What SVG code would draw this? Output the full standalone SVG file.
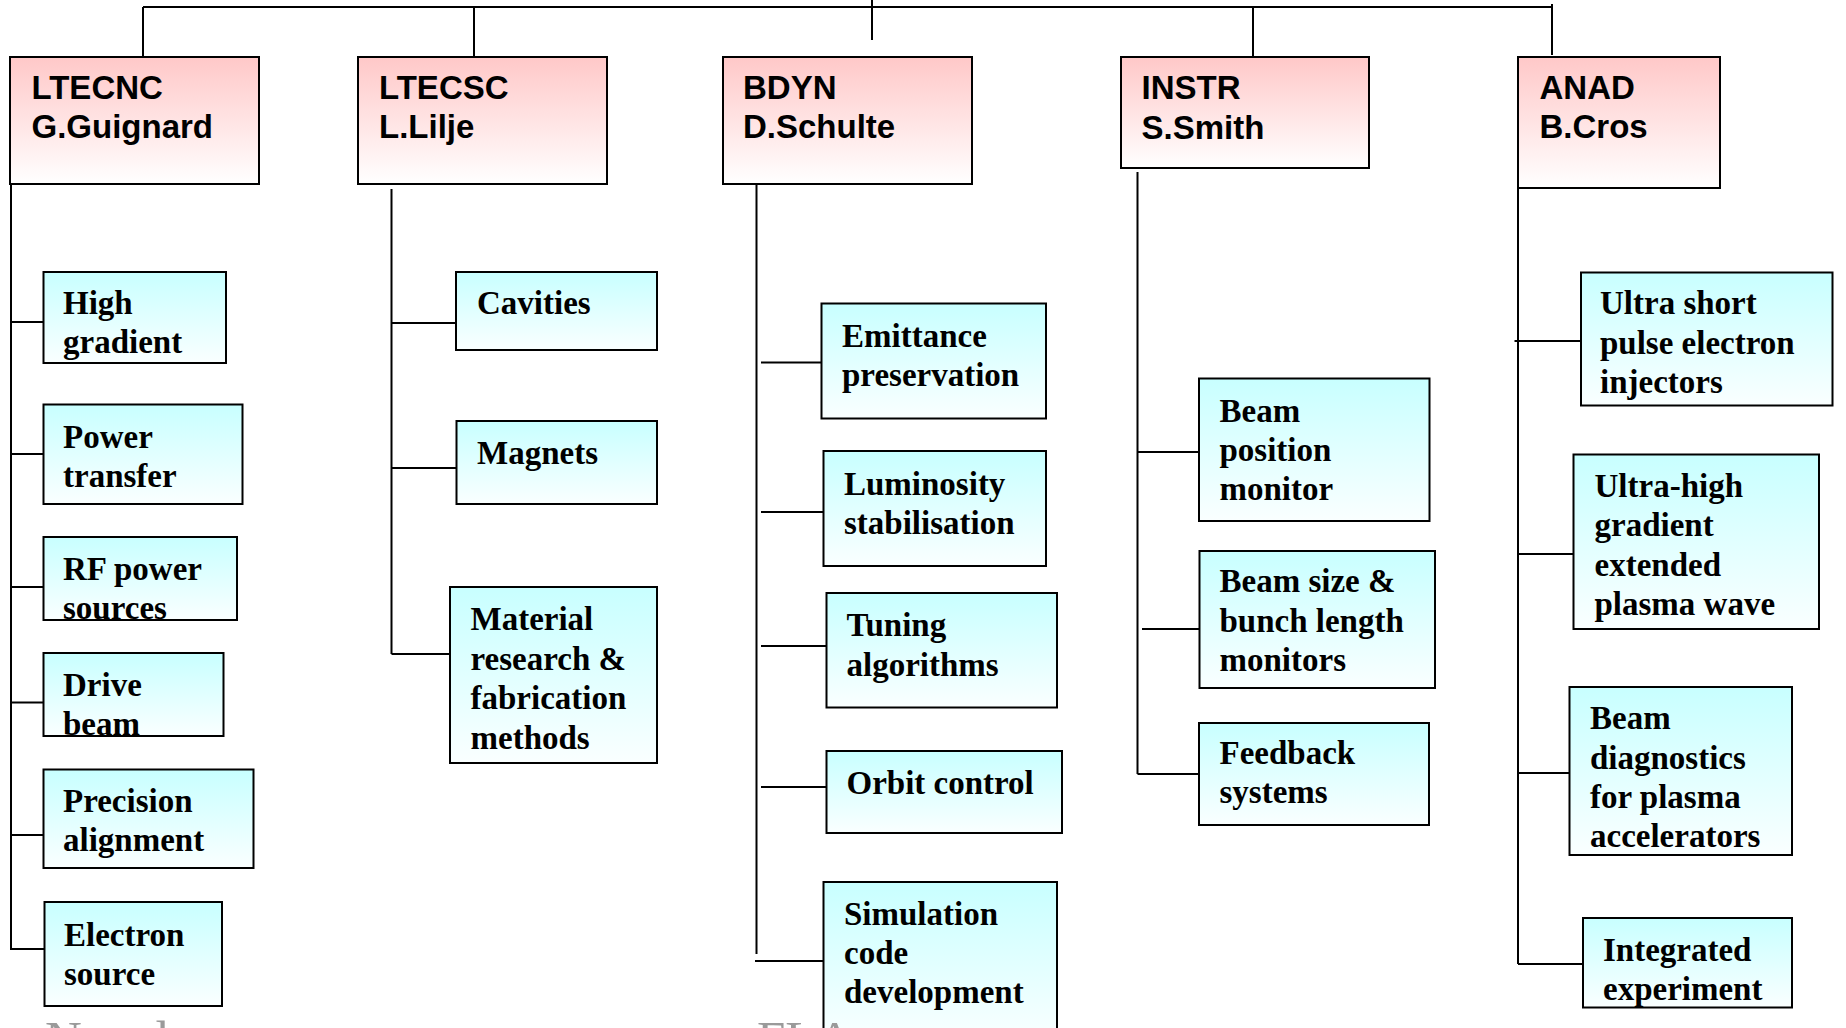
<svg xmlns="http://www.w3.org/2000/svg" width="1846" height="1028" viewBox="0 0 1846 1028">
  <defs>
    <linearGradient id="gHead" x1="0" y1="0" x2="0" y2="1">
      <stop offset="0" stop-color="#FFC8C8"/>
      <stop offset="1" stop-color="#FFFFFF"/>
    </linearGradient>
    <linearGradient id="gTask" x1="0" y1="0" x2="0" y2="1">
      <stop offset="0" stop-color="#C8FFFF"/>
      <stop offset="1" stop-color="#FAFFFF"/>
    </linearGradient>
  </defs>
  <style>
    .head rect { fill: url(#gHead); stroke: #000; stroke-width: 2; }
    .task rect { fill: url(#gTask); stroke: #000; stroke-width: 2; }
    .head text { font-family: "Liberation Sans", Arial, sans-serif; font-weight: bold; font-size: 33px; fill: #000; }
    .task text { font-family: "Liberation Serif", "Times New Roman", serif; font-weight: bold; font-size: 33px; fill: #000; }
    #connectors line { stroke: #000; stroke-width: 2; fill: none; }
    .footer { font-family: "Liberation Serif", "Times New Roman", serif; font-size: 51px; fill: #9a9a9a; }
  </style>

  <rect x="0" y="0" width="1846" height="1028" fill="#FFFFFF"/>

  <!-- tree connectors -->
  <g id="connectors">
    <!-- top bus and drops to group heads -->
    <line x1="143" y1="7" x2="1552" y2="7"/>
    <line x1="872" y1="0" x2="872" y2="40"/>
    <line x1="143" y1="7" x2="143" y2="57"/>
    <line x1="474" y1="7" x2="474" y2="57"/>
    <line x1="1253" y1="7" x2="1253" y2="57"/>
    <line x1="1552" y1="4" x2="1552" y2="55"/>

    <!-- LTECNC branch -->
    <line x1="11" y1="155" x2="11" y2="949"/>
    <line x1="10" y1="322" x2="43.5" y2="322"/>
    <line x1="10" y1="454" x2="43.5" y2="454"/>
    <line x1="10" y1="587" x2="43.5" y2="587"/>
    <line x1="10" y1="702.5" x2="43.5" y2="702.5"/>
    <line x1="10" y1="835" x2="43.5" y2="835"/>
    <line x1="10" y1="949" x2="44.5" y2="949"/>

    <!-- LTECSC branch -->
    <line x1="391.5" y1="189" x2="391.5" y2="654"/>
    <line x1="391.5" y1="323" x2="456" y2="323"/>
    <line x1="391.5" y1="468" x2="456.5" y2="468"/>
    <line x1="391.5" y1="654" x2="450" y2="654"/>

    <!-- BDYN branch -->
    <line x1="756.5" y1="185" x2="756.5" y2="954"/>
    <line x1="761" y1="362.5" x2="821.5" y2="362.5"/>
    <line x1="761" y1="512" x2="823.5" y2="512"/>
    <line x1="761" y1="646" x2="826.5" y2="646"/>
    <line x1="761" y1="787" x2="826.5" y2="787"/>
    <line x1="755" y1="961" x2="823.5" y2="961"/>

    <!-- INSTR branch -->
    <line x1="1137.5" y1="172" x2="1137.5" y2="774"/>
    <line x1="1137.5" y1="452" x2="1199" y2="452"/>
    <line x1="1142" y1="629" x2="1199.5" y2="629"/>
    <line x1="1137.5" y1="774" x2="1199" y2="774"/>

    <!-- ANAD branch -->
    <line x1="1518" y1="188" x2="1518" y2="964"/>
    <line x1="1514.5" y1="341" x2="1581" y2="341"/>
    <line x1="1518" y1="554" x2="1573.5" y2="554"/>
    <line x1="1518" y1="773" x2="1569.5" y2="773"/>
    <line x1="1518" y1="964" x2="1583" y2="964"/>
  </g>

  <!-- group heads -->
  <g id="ltecnc" class="head">
    <rect x="10" y="57" width="249" height="127"/>
    <text x="31.5" y="99.3">LTECNC</text>
    <text x="31.5" y="138.3">G.Guignard</text>
  </g>
  <g id="ltecsc" class="head">
    <rect x="358" y="57" width="249" height="127"/>
    <text x="379" y="99.3">LTECSC</text>
    <text x="379" y="138.3">L.Lilje</text>
  </g>
  <g id="bdyn" class="head">
    <rect x="723" y="57" width="249" height="127"/>
    <text x="743" y="99.3">BDYN</text>
    <text x="743" y="138.3">D.Schulte</text>
  </g>
  <g id="instr" class="head">
    <rect x="1121" y="57" width="248" height="111"/>
    <text x="1141.5" y="99.3">INSTR</text>
    <text x="1141.5" y="139">S.Smith</text>
  </g>
  <g id="anad" class="head">
    <rect x="1518" y="57" width="202" height="131"/>
    <text x="1539.5" y="99.3">ANAD</text>
    <text x="1539.5" y="138.3">B.Cros</text>
  </g>

  <!-- LTECNC tasks -->
  <g id="high-gradient" class="task">
    <rect x="43.5" y="272" width="182.5" height="91"/>
    <text x="63" y="314">High</text>
    <text x="63" y="353">gradient</text>
  </g>
  <g id="power-transfer" class="task">
    <rect x="43.5" y="404.5" width="199" height="99.5"/>
    <text x="63" y="448">Power</text>
    <text x="63" y="487">transfer</text>
  </g>
  <g id="rf-power-sources" class="task">
    <rect x="43.5" y="537" width="193.5" height="83"/>
    <text x="63" y="580">RF power</text>
    <text x="63" y="619">sources</text>
  </g>
  <g id="drive-beam" class="task">
    <rect x="43.5" y="653" width="180" height="83"/>
    <text x="63" y="695.5">Drive</text>
    <text x="63" y="735">beam</text>
  </g>
  <g id="precision-alignment" class="task">
    <rect x="43.5" y="769.5" width="210" height="98.5"/>
    <text x="63" y="811.5">Precision</text>
    <text x="63" y="851">alignment</text>
  </g>
  <g id="electron-source" class="task">
    <rect x="44.5" y="902" width="177.5" height="104"/>
    <text x="64" y="946">Electron</text>
    <text x="64" y="985">source</text>
  </g>

  <!-- LTECSC tasks -->
  <g id="cavities" class="task">
    <rect x="456" y="272" width="201" height="78"/>
    <text x="477" y="314">Cavities</text>
  </g>
  <g id="magnets" class="task">
    <rect x="456.5" y="421" width="200.5" height="83"/>
    <text x="477" y="463.5">Magnets</text>
  </g>
  <g id="material-research" class="task">
    <rect x="450" y="587" width="207" height="176"/>
    <text x="470.5" y="629.5">Material</text>
    <text x="470.5" y="669.5">research &amp;</text>
    <text x="470.5" y="709">fabrication</text>
    <text x="470.5" y="748.5">methods</text>
  </g>

  <!-- BDYN tasks -->
  <g id="emittance-preservation" class="task">
    <rect x="821.5" y="303.5" width="224.5" height="115"/>
    <text x="842" y="346.5">Emittance</text>
    <text x="842" y="386">preservation</text>
  </g>
  <g id="luminosity-stabilisation" class="task">
    <rect x="823.5" y="451" width="222.5" height="115"/>
    <text x="844" y="494.5">Luminosity</text>
    <text x="844" y="534">stabilisation</text>
  </g>
  <g id="tuning-algorithms" class="task">
    <rect x="826.5" y="593" width="230.5" height="114.5"/>
    <text x="846.5" y="636">Tuning</text>
    <text x="846.5" y="675.5">algorithms</text>
  </g>
  <g id="orbit-control" class="task">
    <rect x="826.5" y="751" width="235.5" height="82"/>
    <text x="846.5" y="793.5">Orbit control</text>
  </g>
  <g id="simulation-code" class="task">
    <rect x="823.5" y="882" width="233.5" height="160"/>
    <text x="844" y="924.5">Simulation</text>
    <text x="844" y="964">code</text>
    <text x="844" y="1003">development</text>
  </g>

  <!-- INSTR tasks -->
  <g id="beam-position-monitor" class="task">
    <rect x="1199" y="378.5" width="230.5" height="142.5"/>
    <text x="1219.5" y="422">Beam</text>
    <text x="1219.5" y="461">position</text>
    <text x="1219.5" y="500">monitor</text>
  </g>
  <g id="beam-size-monitors" class="task">
    <rect x="1199.5" y="551" width="235.5" height="137"/>
    <text x="1219.5" y="592">Beam size &amp;</text>
    <text x="1219.5" y="631.5">bunch length</text>
    <text x="1219.5" y="671">monitors</text>
  </g>
  <g id="feedback-systems" class="task">
    <rect x="1199" y="723" width="230" height="102"/>
    <text x="1219.5" y="764">Feedback</text>
    <text x="1219.5" y="803">systems</text>
  </g>

  <!-- ANAD tasks -->
  <g id="ultra-short-pulse" class="task">
    <rect x="1581" y="272.5" width="251.5" height="133"/>
    <text x="1600" y="314">Ultra short</text>
    <text x="1600" y="353.5">pulse electron</text>
    <text x="1600" y="393">injectors</text>
  </g>
  <g id="ultra-high-gradient" class="task">
    <rect x="1573.5" y="454.5" width="245.5" height="174.5"/>
    <text x="1594.5" y="497">Ultra-high</text>
    <text x="1594.5" y="536">gradient</text>
    <text x="1594.5" y="576">extended</text>
    <text x="1594.5" y="615">plasma wave</text>
  </g>
  <g id="beam-diagnostics" class="task">
    <rect x="1569.5" y="687" width="222.5" height="168"/>
    <text x="1590" y="729">Beam</text>
    <text x="1590" y="768.5">diagnostics</text>
    <text x="1590" y="808">for plasma</text>
    <text x="1590" y="847">accelerators</text>
  </g>
  <g id="integrated-experiment" class="task">
    <rect x="1583" y="918" width="209" height="89.5"/>
    <text x="1603" y="961">Integrated</text>
    <text x="1603" y="1000">experiment</text>
  </g>

  <!-- page footer, running off the bottom edge -->
  <text class="footer" x="45" y="1056">Novel</text>
  <text class="footer" x="757" y="1056">FLA</text>
</svg>
